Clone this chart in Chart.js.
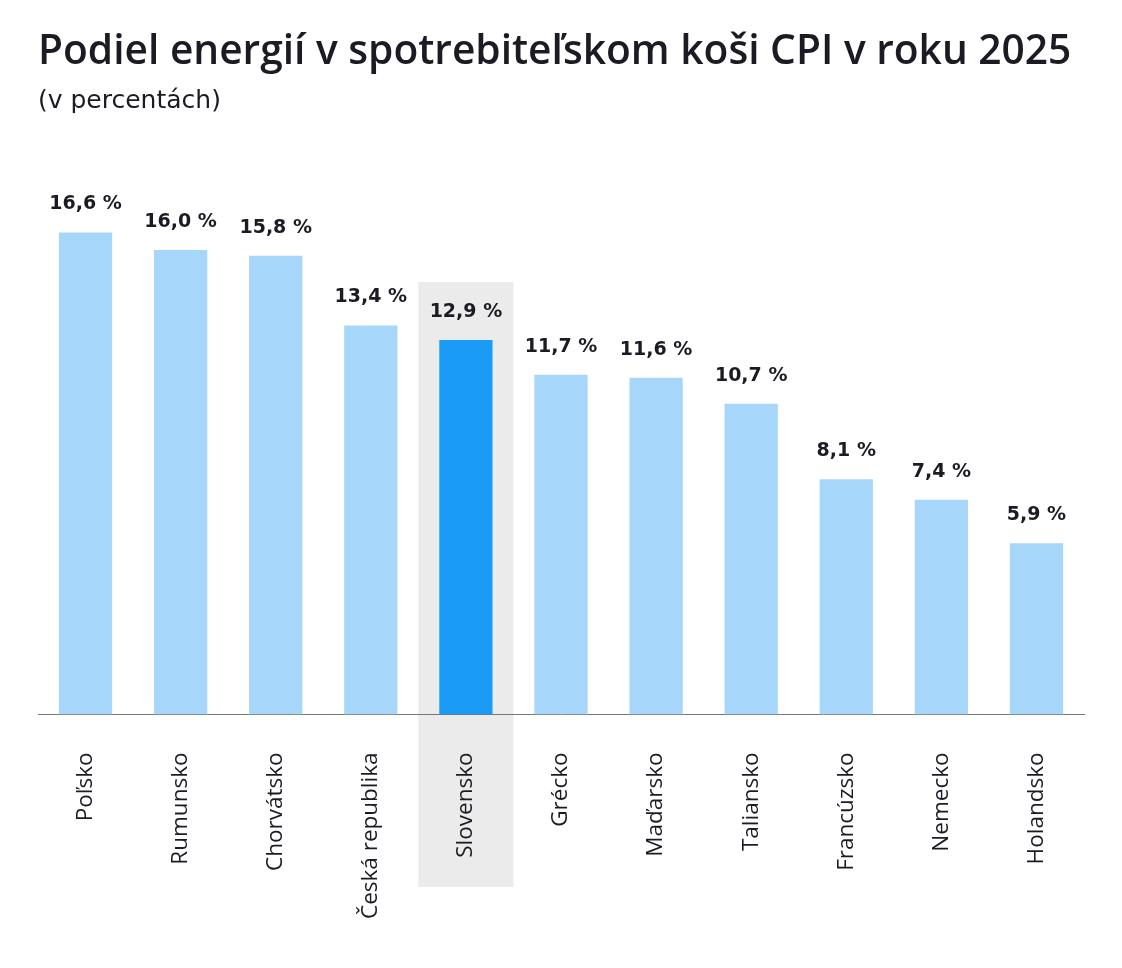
<!DOCTYPE html>
<html lang="sk">
<head>
<meta charset="utf-8">
<script src="https://cdn.jsdelivr.net/npm/chart.js@4"></script>
<style>
  html, body { margin: 0; padding: 0; background: #fff; }
  #wrap { width: 1122px; height: 968px; }
</style>
</head>
<body>
<div id="wrap"><canvas id="cpiChart" width="1122" height="968"></canvas></div>
<script>
// Podiel energií v koši CPI, 2025
const countries = ['Poľsko', 'Rumunsko', 'Chorvátsko', 'Česká republika', 'Slovensko',
    'Grécko', 'Maďarsko', 'Taliansko', 'Francúzsko', 'Nemecko', 'Holandsko'];
const energyShare = [16.6, 16.0, 15.8, 13.4, 12.9, 11.7, 11.6, 10.7, 8.1, 7.4, 5.9];
const highlighted = 'Slovensko';

const lightBlue = '#A6D6FA';
const strongBlue = '#1A9BF6';
const barColors = countries.map(c => c === highlighted ? strongBlue : lightBlue);

const fmt = v => v.toFixed(1).replace('.', ',') + ' %';

// grey band behind the highlighted country (drawn before the axis so the label stays on top)
const highlightBand = {
    id: 'highlightBand',
    beforeDraw(chart) {
        const idx = countries.indexOf(highlighted);
        if (idx < 0) return;
        const x = chart.scales.x, y = chart.scales.y;
        const step = x.getPixelForValue(1) - x.getPixelForValue(0);
        const cx = x.getPixelForValue(idx);
        const top = y.getPixelForValue(energyShare[idx]) - 58;
        const ctx = chart.ctx;
        ctx.save();
        ctx.fillStyle = '#EBEBEB';
        ctx.fillRect(cx - step / 2, top, step, 887 - top);
        ctx.restore();
    }
};

// value labels above bars
const valueLabels = {
    id: 'valueLabels',
    afterDatasetsDraw(chart) {
        const ctx = chart.ctx;
        const meta = chart.getDatasetMeta(0);
        ctx.save();
        ctx.font = "bold 19px 'DejaVu Sans', sans-serif";
        ctx.fillStyle = '#1b1b24';
        ctx.textAlign = 'center';
        ctx.textBaseline = 'middle';
        meta.data.forEach((bar, i) => {
            ctx.fillText(fmt(energyShare[i]), bar.x, bar.y - 28);
        });
        ctx.restore();
    }
};

new Chart(document.getElementById('cpiChart'), {
    type: 'bar',
    data: {
        labels: countries,
        datasets: [{
            data: energyShare,
            backgroundColor: barColors,
            borderWidth: 0,
            barPercentage: 0.56,
            categoryPercentage: 1.0
        }]
    },
    options: {
        responsive: false,
        animation: false,
        layout: { padding: { left: 38, right: 38, top: 28, bottom: 19 } },
        plugins: {
            legend: { display: false },
            tooltip: { enabled: false },
            title: {
                display: true,
                text: 'Podiel energií v spotrebiteľskom koši CPI v roku 2025',
                align: 'start',
                color: '#1b1b24',
                font: { family: "'Open Sans', sans-serif", size: 40.7, weight: '600' },
                padding: { top: 0, bottom: 10 }
            },
            subtitle: {
                display: true,
                text: '(v percentách)',
                align: 'start',
                color: '#1b1b24',
                font: { family: "'DejaVu Sans', sans-serif", size: 25 },
                padding: { top: 0, bottom: 17 }
            }
        },
        scales: {
            x: {
                grid: { display: false },
                border: { display: true, color: '#777', width: 1 },
                ticks: {
                    minRotation: 90,
                    maxRotation: 90,
                    padding: 30,
                    color: '#1b1b24',
                    font: { family: "'Open Sans', sans-serif", size: 22.5 }
                }
            },
            y: {
                display: false,
                min: 0,
                max: 20
            }
        }
    },
    plugins: [highlightBand, valueLabels]
});
</script>
</body>
</html>
